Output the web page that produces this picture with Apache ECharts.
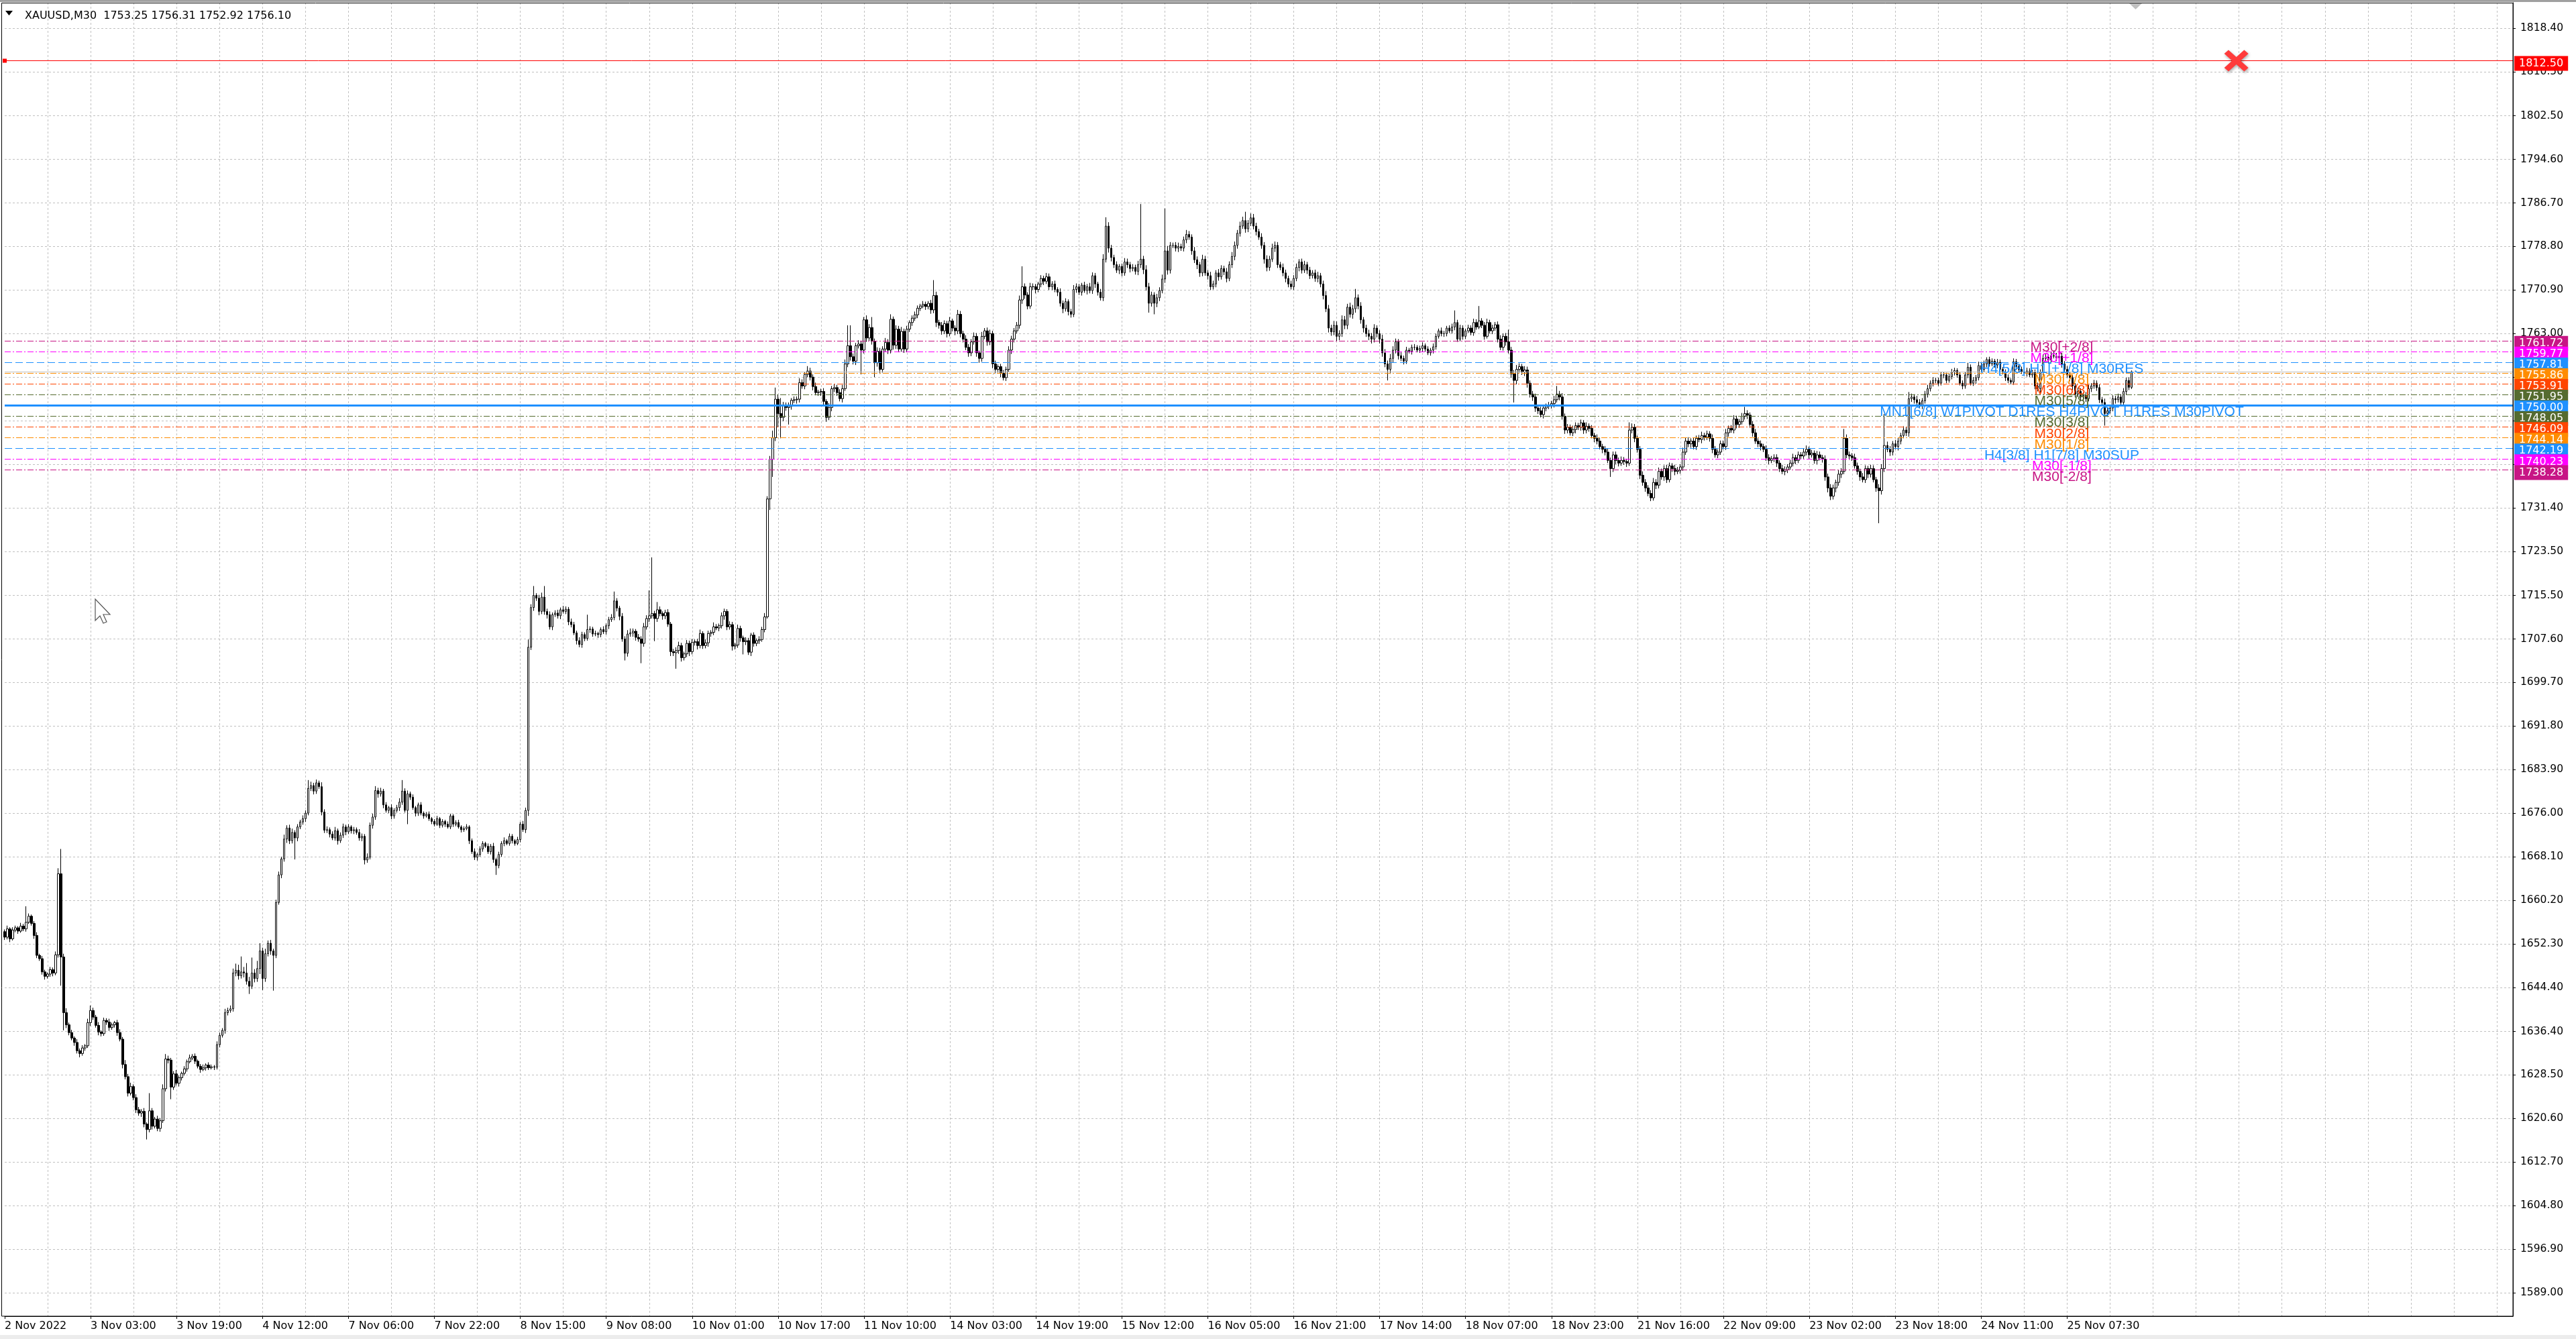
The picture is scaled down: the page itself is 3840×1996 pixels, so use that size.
<!DOCTYPE html>
<html><head><meta charset="utf-8">
<script src="https://cdn.jsdelivr.net/npm/echarts@6/dist/echarts.min.js"></script>
<style>html,body{margin:0;padding:0;background:#fff;}#c{width:3840px;height:1996px;}</style>
</head><body><div id="c"></div>
<script>
// ---------- DATA ----------
const titleText = 'XAUUSD,M30  1753.25 1756.31 1752.92 1756.10';
const xTickLabels = ['2 Nov 2022','3 Nov 03:00','3 Nov 19:00','4 Nov 12:00','7 Nov 06:00','7 Nov 22:00','8 Nov 15:00','9 Nov 08:00','10 Nov 01:00','10 Nov 17:00','11 Nov 10:00','14 Nov 03:00','14 Nov 19:00','15 Nov 12:00','16 Nov 05:00','16 Nov 21:00','17 Nov 14:00','18 Nov 07:00','18 Nov 23:00','21 Nov 16:00','22 Nov 09:00','23 Nov 02:00','23 Nov 18:00','24 Nov 11:00','25 Nov 07:30'];
const yTickValues = [1589.00,1596.90,1604.80,1612.70,1620.60,1628.50,1636.40,1644.40,1652.30,1660.20,1668.10,1676.00,1683.90,1691.80,1699.70,1707.60,1715.50,1723.50,1731.40,1739.30,1747.20,1755.10,1763.00,1770.90,1778.80,1786.70,1794.60,1802.50,1810.50,1818.40];
const yLabelValues = [1589.00,1596.90,1604.80,1612.70,1620.60,1628.50,1636.40,1644.40,1652.30,1660.20,1668.10,1676.00,1683.90,1691.80,1699.70,1707.60,1715.50,1723.50,1731.40,1763.00,1770.90,1778.80,1786.70,1794.60,1802.50,1810.50,1818.40];
const firstOpen = 1654.5;
const closes = [
1653.5,1655.0,1653.2,1654.8,1655.2,1654.6,1655.5,1655.0,1656.2,1657.3,
1656.0,1653.8,1650.2,1649.6,1647.2,1646.4,1646.8,1647.6,1647.0,1650.3,
1665.0,1649.9,1639.8,1637.6,1636.2,1635.2,1634.4,1632.9,1632.4,1633.4,
1633.8,1638.0,1640.2,1639.0,1637.5,1636.3,1636.0,1638.4,1638.1,1637.1,
1637.6,1638.0,1636.2,1635.0,1630.4,1628.2,1625.2,1626.4,1624.4,1622.2,
1621.6,1621.9,1619.6,1618.6,1622.0,1619.2,1620.5,1618.8,1620.2,1626.0,
1631.4,1631.2,1626.3,1628.7,1627.0,1628.0,1628.8,1629.6,1630.9,1631.6,
1631.9,1631.0,1630.1,1629.5,1629.8,1630.3,1629.8,1630.0,1629.9,1634.0,
1635.7,1636.6,1639.8,1640.2,1640.5,1647.0,1647.5,1646.5,1647.2,1647.0,
1645.5,1644.6,1647.0,1646.0,1647.8,1651.0,1646.0,1650.5,1652.4,1651.0,
1650.2,1659.8,1664.8,1667.7,1671.3,1673.3,1671.0,1672.5,1671.5,1673.5,
1674.4,1675.0,1676.0,1680.5,1681.0,1680.0,1681.5,1680.8,1676.2,1672.9,
1673.0,1672.2,1671.5,1672.8,1671.0,1672.0,1673.5,1672.6,1673.5,1672.8,
1673.0,1672.5,1671.5,1671.8,1667.5,1668.0,1673.8,1675.3,1680.1,1679.5,
1680.0,1677.5,1676.5,1677.0,1675.5,1676.5,1677.0,1678.0,1680.0,1676.5,
1679.5,1678.9,1677.0,1676.0,1677.5,1676.0,1675.5,1675.8,1675.0,1674.5,
1674.0,1675.0,1673.8,1674.5,1674.0,1673.5,1675.5,1674.0,1674.3,1673.5,
1673.0,1673.2,1673.5,1671.0,1669.0,1668.0,1668.5,1669.5,1670.5,1670.0,
1669.0,1670.0,1667.6,1666.5,1668.5,1670.5,1671.0,1670.5,1671.8,1671.0,
1670.5,1671.2,1674.0,1673.0,1676.5,1706.1,1713.3,1715.5,1715.0,1712.6,
1715.2,1712.6,1712.0,1709.8,1712.0,1712.3,1711.8,1712.9,1712.6,1713.0,
1710.7,1710.2,1708.7,1707.3,1706.6,1708.4,1707.7,1709.3,1709.4,1708.5,
1708.6,1708.4,1709.3,1708.9,1710.0,1711.1,1711.5,1714.5,1713.2,1711.7,
1707.6,1705.0,1708.5,1708.7,1709.0,1707.9,1707.6,1706.8,1709.8,1711.3,
1711.8,1712.2,1711.3,1712.9,1712.2,1711.8,1712.4,1710.3,1705.3,1705.1,
1705.5,1706.4,1704.2,1704.9,1706.8,1705.3,1707.0,1707.1,1706.4,1708.6,
1706.4,1706.9,1708.6,1708.8,1709.8,1709.6,1710.0,1711.8,1712.6,1709.8,
1710.2,1706.3,1706.5,1709.5,1707.8,1707.1,1707.3,1705.2,1708.3,1706.8,
1707.3,1707.5,1709.3,1711.6,1733.0,1740.2,1744.1,1751.1,1748.5,1747.8,
1750.0,1749.6,1749.8,1750.9,1751.0,1751.1,1754.1,1753.5,1755.6,1756.2,
1755.1,1753.4,1752.3,1752.4,1752.5,1750.7,1747.8,1749.6,1753.0,1753.2,
1752.3,1751.2,1753.0,1757.5,1760.8,1758.8,1758.0,1760.8,1761.1,1760.0,
1765.5,1762.2,1764.1,1761.6,1757.7,1759.8,1756.5,1760.2,1761.4,1760.0,
1765.6,1760.9,1763.8,1760.2,1763.4,1760.2,1763.8,1765.0,1765.8,1766.4,
1767.6,1768.0,1768.3,1767.9,1768.5,1767.3,1769.9,1765.0,1764.5,1763.5,
1764.8,1763.0,1765.3,1764.0,1763.5,1766.5,1763.0,1762.0,1760.5,1759.5,
1761.5,1762.5,1759.5,1758.5,1762.5,1763.5,1761.5,1763.0,1757.5,1756.5,
1757.0,1755.8,1755.0,1756.5,1760.0,1762.0,1763.5,1764.5,1769.1,1771.5,
1770.0,1768.0,1771.5,1771.5,1771.0,1772.0,1773.0,1772.5,1773.3,1771.5,
1772.0,1771.0,1770.5,1768.5,1767.5,1768.8,1767.0,1766.5,1771.0,1771.5,
1770.5,1771.8,1770.8,1771.5,1770.8,1773.5,1772.0,1770.5,1769.5,1776.5,
1782.5,1778.5,1776.8,1775.5,1774.5,1775.2,1774.0,1776.0,1775.5,1774.8,
1775.0,1774.3,1775.5,1776.5,1774.6,1771.5,1768.5,1770.0,1768.5,1769.5,
1770.8,1772.9,1778.0,1774.5,1779.0,1779.0,1778.5,1778.8,1778.5,1780.0,
1781.0,1780.5,1778.0,1776.4,1775.5,1774.0,1776.5,1774.0,1773.5,1771.5,
1772.0,1774.0,1773.3,1774.8,1774.2,1773.0,1775.5,1777.0,1779.0,1781.2,
1782.5,1783.5,1782.0,1783.0,1784.0,1782.5,1781.5,1780.5,1779.0,1776.5,
1775.0,1776.5,1778.5,1779.0,1775.5,1775.0,1774.0,1773.0,1772.0,1771.5,
1773.0,1775.0,1776.0,1774.5,1775.5,1774.5,1773.5,1774.0,1773.0,1773.5,
1772.0,1769.9,1767.5,1764.0,1763.3,1764.5,1762.5,1763.0,1765.5,1764.5,
1767.8,1766.5,1767.5,1769.5,1768.0,1765.5,1764.0,1763.0,1762.5,1762.0,
1764.0,1763.0,1762.0,1759.5,1757.5,1756.5,1758.5,1760.0,1761.5,1759.0,
1758.5,1758.0,1760.0,1759.8,1760.5,1760.5,1760.0,1760.3,1760.8,1760.2,
1759.5,1760.0,1760.6,1762.5,1763.5,1763.0,1763.0,1764.0,1763.5,1764.2,
1765.0,1762.0,1764.0,1762.5,1763.5,1764.0,1763.2,1765.0,1764.2,1765.3,
1764.5,1762.5,1765.0,1763.5,1764.0,1764.6,1762.0,1760.5,1762.5,1761.5,
1760.0,1755.7,1754.5,1756.5,1757.0,1756.0,1756.4,1754.0,1752.0,1751.5,
1749.5,1749.0,1748.3,1749.5,1749.8,1750.0,1750.3,1751.0,1752.0,1751.5,
1748.0,1745.5,1746.0,1745.0,1745.6,1746.3,1746.0,1746.8,1745.5,1746.2,
1745.8,1744.5,1744.0,1743.5,1742.5,1742.0,1741.5,1740.0,1738.5,1741.0,
1740.0,1739.5,1740.0,1739.8,1739.5,1745.5,1746.0,1744.0,1742.0,1737.3,
1736.0,1735.0,1734.0,1733.2,1736.0,1735.5,1738.0,1737.0,1738.5,1736.5,
1739.0,1738.5,1738.0,1738.2,1738.8,1741.5,1743.5,1743.0,1743.5,1742.5,
1744.0,1743.8,1744.5,1744.2,1744.8,1744.0,1742.0,1741.0,1741.5,1743.0,
1742.5,1745.0,1745.8,1745.5,1747.5,1746.5,1747.0,1748.0,1748.5,1748.2,
1746.5,1745.0,1743.5,1743.0,1742.5,1742.0,1740.5,1740.0,1740.3,1740.5,
1739.5,1738.5,1738.0,1738.3,1738.8,1739.5,1740.5,1740.0,1741.0,1740.8,
1741.5,1742.0,1741.0,1741.3,1740.0,1741.0,1740.5,1740.2,1737.0,1735.0,
1733.5,1735.0,1736.0,1737.5,1738.0,1744.0,1741.0,1740.8,1740.5,1739.0,
1738.0,1737.0,1736.5,1738.5,1737.5,1738.5,1736.5,1735.0,1734.5,1738.5,
1742.7,1742.0,1741.5,1743.0,1742.5,1743.5,1744.5,1745.5,1745.0,1751.2,
1751.5,1751.0,1750.5,1750.0,1750.8,1752.0,1753.0,1754.0,1754.5,1754.5,
1754.0,1755.5,1755.5,1754.5,1755.2,1756.0,1756.3,1755.5,1754.0,1753.5,
1755.5,1756.9,1754.0,1754.5,1755.0,1757.2,1756.5,1757.5,1758.3,1757.5,
1758.0,1757.3,1757.8,1756.5,1756.0,1755.0,1754.5,1754.2,1757.9,1757.0,
1756.5,1756.1,1755.8,1756.2,1755.5,1756.0,1753.5,1753.0,1756.0,1758.5,
1758.7,1758.2,1759.0,1758.9,1758.6,1758.9,1757.5,1756.5,1755.5,1755.0,
1753.5,1752.0,1752.5,1751.5,1751.8,1751.2,1753.0,1753.5,1754.0,1753.2,
1751.0,1750.5,1748.5,1749.0,1749.5,1751.2,1751.0,1751.5,1750.5,1752.5,
1754.5,1753.25,1756.10];
// wick lengths above / below the body, in tenths of a dollar
const wickUp = [
4,6,3,5,4,3,6,4,29,5, 3,4,6,3,5,4,3,5,4,6, 10,45,6,8,4,5,3,6,4,5, 3,7,9,5,4,6,3,5,4,6,
4,3,5,6,4,8,5,7,4,6, 5,4,6,3,32,5,4,6,5,8, 9,6,4,5,7,4,3,5,4,6, 4,5,3,4,6,3,5,4,3,6,
5,4,7,5,6,8,12,10,28,9, 18,8,28,7,14,14,6,9,5,6, 4,5,6,4,8,5,6,7,4,5, 4,6,5,15,7,5,6,4,8,5,
6,4,5,7,4,5,6,4,5,3, 5,4,6,5,4,7,5,6,8,5, 6,4,5,3,6,4,5,7,20,5, 6,4,5,3,4,5,3,4,5,3,
4,5,3,4,3,5,4,3,4,5, 3,4,5,3,4,6,3,5,4,3, 5,4,6,3,5,4,6,3,5,4, 3,5,4,6,5,14,6,17,4,6,
8,20,5,6,4,5,6,4,7,5, 4,6,5,4,6,5,4,27,5,4, 5,3,4,6,4,5,6,17,5,4, 6,5,7,8,5,4,6,5,7,6,
46,102,5,14,6,4,5,6,4,5, 6,7,5,4,6,5,6,4,5,7, 4,6,5,4,8,5,4,6,5,4, 6,5,4,7,5,4,6,5,4,5,
4,6,5,7,5,6,13,21,8,28, 6,5,7,4,6,5,8,6,5,9, 6,5,7,4,5,6,4,8,5,6, 5,6,7,8,37,37,6,5,7,6,
5,8,6,19,5,7,6,5,8,6, 9,5,7,6,8,5,6,4,5,6, 5,4,6,5,4,6,28,7,5,6, 6,5,7,4,5,8,6,5,7,6,
5,7,6,4,8,5,6,7,5,6, 4,5,6,5,7,6,5,6,8,37, 6,5,7,6,5,4,6,5,7,6, 5,6,4,7,5,6,4,5,8,6,
5,4,6,5,7,6,5,4,6,9, 16,7,6,5,6,4,5,7,6,5, 6,5,7,100,6,8,7,6,5,7, 6,8,77,9,6,5,6,7,5,6,
8,6,5,7,6,5,8,6,5,7, 6,5,7,6,5,7,6,8,7,6, 8,7,16,6,8,7,6,5,7,6, 7,6,8,7,6,5,7,6,5,6,
6,7,5,6,7,5,6,5,6,7, 5,6,8,7,6,8,7,6,8,7, 6,8,7,16,6,7,5,6,7,6, 7,5,6,8,7,6,8,7,6,5,
6,5,6,4,5,6,4,5,6,4, 5,4,6,5,4,6,5,4,5,6, 22,5,6,5,4,6,5,7,6,27, 5,6,7,5,6,5,6,7,5,6,
22,6,7,8,6,5,7,6,5,6, 6,5,7,6,5,6,5,7,15,6, 7,5,6,5,7,6,5,6,5,7, 5,6,5,7,6,5,6,7,5,6,
6,5,7,6,5,14,7,6,5,6, 7,6,5,6,8,6,7,5,6,7, 6,5,7,6,5,8,6,7,5,6, 5,6,7,5,6,5,7,6,5,6,
6,7,5,6,7,6,5,6,12,6, 5,6,7,5,6,5,7,6,5,6, 6,5,7,6,5,6,7,5,6,5, 6,7,5,6,5,7,6,5,7,6,
7,6,5,7,6,17,7,6,5,7, 6,5,7,6,5,7,6,5,7,8, 57,7,6,5,7,6,5,7,6,12, 6,5,7,6,5,6,7,5,6,5,
5,6,5,4,5,6,5,4,6,5, 6,8,5,6,5,7,5,6,4,5, 5,4,6,5,4,5,6,4,6,5, 4,5,4,6,5,4,5,6,5,7,
6,5,7,9,6,5,6,5,6,5, 6,5,7,6,5,6,7,5,6,5, 6,5,7,6,5,6,5,6,5,6, 5,6,2];
const wickDn = [
5,4,6,3,4,5,3,4,5,3, 4,6,5,4,5,6,4,5,6,4, 5,52,32,6,5,4,6,5,7,4, 5,4,6,5,4,6,5,4,5,6,
4,5,6,4,7,5,6,4,5,6, 5,7,6,18,5,6,4,5,6,4, 5,6,22,5,4,6,5,4,5,3, 4,5,4,6,3,5,4,3,5,4,
5,4,6,5,4,5,6,7,5,8, 6,14,5,7,6,10,21,6,5,7, 64,5,4,6,5,7,6,5,39,6, 4,5,6,4,5,6,5,4,6,5,
5,6,4,5,7,4,5,6,4,5, 6,4,5,6,8,5,4,6,5,7, 5,6,4,5,6,5,4,6,5,4, 25,5,4,6,5,4,5,3,4,5,
4,3,5,4,5,3,4,5,4,3, 5,4,3,6,4,5,6,4,5,3, 4,5,6,17,5,4,5,3,4,5, 4,3,5,4,6,10,5,6,5,7,
5,6,7,5,6,4,5,6,4,5, 6,5,4,7,5,6,5,4,6,5, 4,6,5,4,5,6,4,5,6,7, 5,13,6,5,7,6,5,36,6,5,
6,5,41,6,5,7,6,5,8,6, 29,6,7,5,6,8,5,6,7,5, 6,5,7,6,5,4,6,5,7,6, 5,8,6,5,7,23,6,5,7,6,
5,6,4,5,3,20,32,6,25,38, 7,6,31,6,5,7,6,5,6,5, 6,7,5,6,7,6,8,5,7,6, 6,5,7,4,6,7,6,7,5,44,
6,7,5,6,26,7,8,6,5,7, 6,8,7,6,5,7,6,5,6,5, 6,5,4,6,5,7,6,8,6,7, 6,7,5,6,8,6,7,6,5,7,
6,5,7,8,6,5,7,6,8,7, 6,7,5,6,5,7,6,5,6,7, 7,6,5,6,7,5,6,7,5,6, 6,5,7,6,8,5,7,6,5,6,
5,6,4,7,5,6,7,6,5,6, 6,8,7,6,5,7,6,5,6,7, 5,6,7,6,8,7,17,6,20,7, 6,5,7,8,6,5,6,7,5,6,
6,5,7,6,8,7,6,5,7,6, 5,6,7,5,6,7,5,6,7,6, 6,5,7,6,5,6,7,5,6,8, 7,6,5,7,6,5,6,7,6,5,
6,5,7,6,5,7,6,5,6,7, 6,7,6,8,7,6,9,7,6,7, 7,6,8,7,6,7,8,6,7,8, 6,7,8,7,6,20,8,7,6,7,
5,6,5,4,6,5,4,5,6,5, 4,5,6,5,4,5,6,5,4,5, 6,5,4,6,5,4,5,6,5,4, 5,6,4,5,6,5,6,5,6,7,
6,7,40,7,6,5,7,8,6,7, 7,6,5,7,6,5,6,7,5,6, 6,7,6,5,6,7,5,6,7,6, 6,5,7,6,5,7,6,5,15,6,
7,6,5,6,7,5,6,7,6,7, 6,7,5,6,5,7,6,5,7,6, 5,6,7,5,6,7,5,6,7,5, 6,5,7,6,5,6,7,5,6,5,
5,6,7,5,6,7,6,5,6,7, 6,7,5,6,7,5,6,7,5,6, 7,6,5,7,6,5,6,7,5,6, 5,6,7,5,6,7,5,6,7,8,
7,6,8,6,7,5,6,7,6,5, 6,7,5,6,7,6,5,7,59,7, 6,5,7,6,5,7,6,5,6,7, 6,7,5,6,7,5,6,5,6,5,
5,4,6,5,4,5,6,5,4,6, 5,6,4,5,6,5,4,5,6,5, 4,5,6,5,4,6,5,4,5,6, 5,4,5,6,4,5,6,5,7,6,
5,6,5,4,6,5,7,6,5,6, 7,6,5,8,7,6,5,6,5,6, 6,7,22,6,5,6,7,5,6,5, 6,5,3];
const levelValues = [1761.72,1759.77,1757.81,1755.86,1753.91,1751.95,1750.00,1748.05,1746.09,1744.14,1742.19,1740.23,1738.28];
const levelTexts = ['M30[+2/8]','M30[+1/8]','H4[5/8] H1[+1/8] M30RES','M30[7/8]','M30[6/8]','M30[5/8]','MN1[6/8] W1PIVOT D1RES H4PIVOT H1RES M30PIVOT','M30[3/8]','M30[2/8]','M30[1/8]','H4[3/8] H1[7/8] M30SUP','M30[-1/8]','M30[-2/8]'];
const levelTextBar = 766;
const alertPrice = 1812.50;
const alertMarkBar = 831;
const bidPrice = 1756.10;
const totalSlots = 935;

// ---------- STYLES ----------
const C_MVR = '#C71585', C_MAG = '#FF00FF', C_BLUE = '#1E90FF', C_DOR = '#FF8C00', C_OR = '#FF4500', C_OLV = '#556B2F';
const levelColors = [C_MVR, C_MAG, C_BLUE, C_DOR, C_OR, C_OLV, C_BLUE, C_OLV, C_OR, C_DOR, C_BLUE, C_MAG, C_MVR];
const DASHDOT = [9,3,2,3], DASH = [11,5];
const levelLineTypes = [DASHDOT, DASHDOT, DASH, DASHDOT, DASHDOT, DASHDOT, 'solid', DASHDOT, DASHDOT, DASHDOT, DASH, DASHDOT, DASHDOT];
const levelWidths = [1,1,1,1,1,1,3,1,1,1,1,1,1];

// ---------- BUILD ----------
const candles = closes.map((c, i) => {
  const o = i === 0 ? firstOpen : closes[i - 1];
  const hi = Math.max(o, c) + wickUp[i] / 10;
  const lo = Math.min(o, c) - wickDn[i] / 10;
  return [o, c, lo, hi];
});
const categories = Array.from({length: totalSlots}, (_, i) => String(i));

const axisFont = 'DejaVu Sans';
const labelBox = (color) => ({
  show: true, position: 'end', distance: 2, offset: [0, 4], formatter: (p) => p.value.toFixed(2),
  color: '#fff', backgroundColor: color, fontFamily: axisFont, fontSize: 16,
  lineHeight: 16, padding: [3, 7, 3, 7]
});

const chart = echarts.init(document.getElementById('c'), null, {renderer: 'canvas'});
chart.setOption({
  animation: false,
  backgroundColor: '#ffffff',
  title: {
    text: titleText, left: 32, top: 11,
    textStyle: {fontFamily: axisFont, fontSize: 16, fontWeight: 'normal', color: '#000'}
  },
  grid: {left: 7, right: 94, top: 4, bottom: 34, containLabel: false, outerBoundsMode: 'none'},
  xAxis: {
    type: 'category', data: categories, boundaryGap: false,
    axisLine: {show: true, lineStyle: {color: '#000', width: 1}},
    axisTick: {show: true, length: 4, interval: (i) => i % 32 === 0 && i / 32 < xTickLabels.length, lineStyle: {color: '#000'}},
    axisLabel: {
      show: true, interval: (i) => i % 32 === 0 && i / 32 < xTickLabels.length,
      formatter: (v) => { const i = parseInt(v, 10); return i % 32 === 0 && xTickLabels[i / 32] ? xTickLabels[i / 32] : ''; },
      align: 'left', margin: 7, color: '#000', fontFamily: axisFont, fontSize: 16
    },
    splitLine: {show: true, interval: (i) => i % 16 === 0 && i > 0, lineStyle: {color: '#c0c0c0', type: [3, 3], width: 1}}
  },
  yAxis: {
    type: 'value', position: 'right', min: 1584.74, max: 1823.03, scale: true,
    axisLine: {show: true, onZero: false, lineStyle: {color: '#000', width: 1}},
    axisTick: {show: true, length: 4, customValues: yTickValues, lineStyle: {color: '#000'}},
    axisLabel: {show: true, customValues: yLabelValues, formatter: (v) => v.toFixed(2), margin: 11, color: '#000', fontFamily: axisFont, fontSize: 15.5},
    splitLine: {show: false}
  },
  graphic: [
    {type: 'rect', shape: {x: 0, y: 0, width: 3840, height: 3}, style: {fill: '#a0a0a0'}, z: 100},
    {type: 'rect', shape: {x: 0, y: 1990, width: 3840, height: 6}, style: {fill: '#ececec'}, z: 100},
    {type: 'rect', shape: {x: 2.5, y: 4.5, width: 3743.5, height: 1957.5}, style: {fill: null, stroke: '#000', lineWidth: 1}, z: 100},
    {type: 'polygon', shape: {points: [[8, 16], [19, 16], [13.5, 23]]}, style: {fill: '#000'}, z: 100},
    {type: 'polygon', shape: {points: [[3174, 5], [3193, 5], [3183.5, 14]]}, style: {fill: '#c0c0c0'}, z: 100},
    {type: 'polygon', shape: {points: [[142, 893], [142, 925], [149, 918], [154, 929], [159, 927], [154, 916], [164, 916]]}, style: {fill: '#fff', stroke: '#555', lineWidth: 1.2}, z: 100}
  ],
  series: [
    {
      name: 'grid', type: 'line', data: [], z: 1, silent: true,
      markLine: {
        silent: true, symbol: 'none', z: 1, animation: false,
        label: {show: false},
        lineStyle: {color: '#c0c0c0', type: [3, 3], width: 1},
        data: yTickValues.map((v) => ({yAxis: v}))
      }
    },
    {
      name: 'XAUUSD', type: 'candlestick', data: candles, z: 3, large: false,
      barWidth: 3,
      itemStyle: {color: '#ffffff', color0: '#000000', borderColor: '#000000', borderColor0: '#000000', borderWidth: 1},
      markLine: {
        silent: true, symbol: 'none', z: 4, animation: false,
        data: [
          {yAxis: bidPrice, lineStyle: {color: '#c0c0c0', type: 'solid', width: 1}, label: {show: false}},
          ...levelValues.map((v, i) => ({
            yAxis: v,
            lineStyle: {color: levelColors[i], type: levelLineTypes[i], width: levelWidths[i], opacity: 1},
            label: labelBox(levelColors[i])
          })),
          {yAxis: alertPrice, symbol: ['none', 'emptyRect'], symbolSize: 6,
           lineStyle: {color: '#ff0000', type: 'solid', width: 1, opacity: 1}, label: labelBox('#ff0000')}
        ]
      }
    },
    {
      name: 'levelTexts', type: 'scatter', z: 6, silent: true, symbolSize: 0,
      itemStyle: {opacity: 1},
      data: levelValues.map((v, i) => ({
        value: [levelTextBar, v],
        itemStyle: {opacity: 1},
        label: {
          show: true, position: 'bottom', distance: 0, formatter: levelTexts[i],
          color: levelColors[i], opacity: 1, fontFamily: 'Liberation Sans', fontSize: 21
        }
      }))
    },
    {
      name: 'alert', type: 'scatter', z: 7, silent: true,
      symbol: 'path://M3.5,0 L10,6.5 L16.5,0 L20,3.5 L13.5,10 L20,16.5 L16.5,20 L10,13.5 L3.5,20 L0,16.5 L6.5,10 L0,3.5 Z',
      symbolSize: [36, 32],
      itemStyle: {color: '#ff3b3b', opacity: 1, shadowBlur: 4, shadowColor: 'rgba(0,0,0,0.35)', shadowOffsetX: 1, shadowOffsetY: 2},
      data: [[alertMarkBar, alertPrice]]
    }
  ]
});
</script>
</body></html>
